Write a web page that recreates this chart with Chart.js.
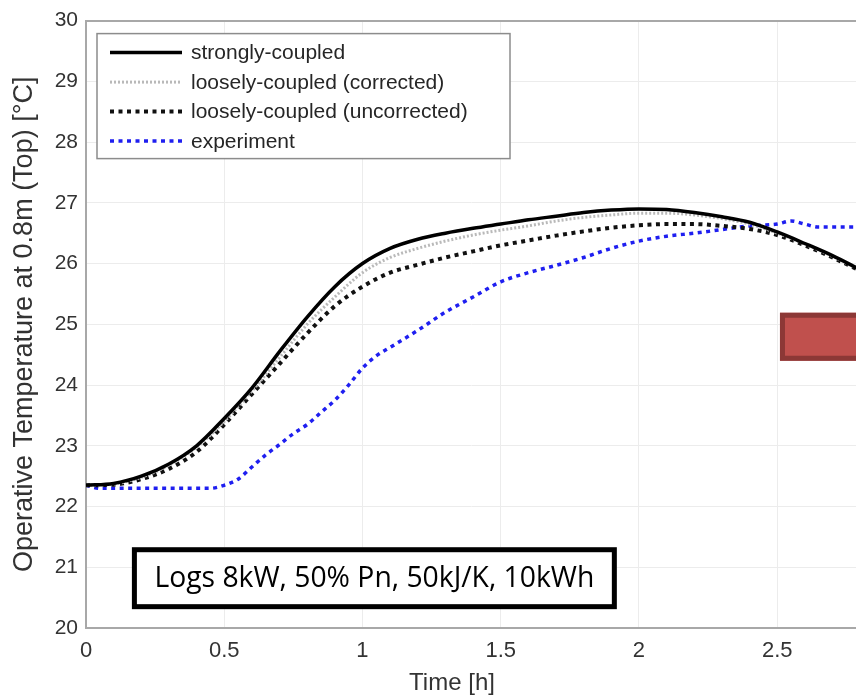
<!DOCTYPE html>
<html>
<head>
<meta charset="utf-8">
<script src="https://cdn.jsdelivr.net/npm/chart.js@4.4.0/dist/chart.umd.min.js"></script>
<style>
  body { margin: 0; background: #fff; }
  #wrap { width: 856px; height: 696px; }
</style>
</head>
<body>
<div id="wrap"><canvas id="myChart" width="856" height="696"></canvas></div>
<script>
// --------------------- data ----------------//
const simTime     = [0, 0.1, 0.2, 0.3, 0.4, 0.5, 0.6, 0.7, 0.8, 0.9, 1.0, 1.1, 1.2, 1.3, 1.4, 1.5, 1.6, 1.7, 1.8, 1.9, 2.0, 2.1, 2.2, 2.3, 2.4, 2.5, 2.6, 2.7, 2.8];
const strongly    = [22.35, 22.38, 22.5, 22.7, 23.0, 23.45, 23.95, 24.55, 25.12, 25.62, 26.0, 26.25, 26.4, 26.5, 26.58, 26.65, 26.72, 26.78, 26.84, 26.88, 26.9, 26.89, 26.84, 26.77, 26.68, 26.52, 26.33, 26.13, 25.9];
const looseCorr   = [22.35, 22.37, 22.48, 22.68, 22.98, 23.4, 23.9, 24.45, 25.0, 25.45, 25.85, 26.1, 26.25, 26.37, 26.47, 26.55, 26.62, 26.7, 26.76, 26.8, 26.83, 26.83, 26.8, 26.74, 26.65, 26.5, 26.32, 26.12, 25.89];
const looseUncorr = [22.35, 22.36, 22.45, 22.62, 22.9, 23.35, 23.85, 24.35, 24.85, 25.3, 25.62, 25.85, 25.98, 26.1, 26.2, 26.3, 26.38, 26.46, 26.53, 26.59, 26.63, 26.65, 26.65, 26.62, 26.57, 26.47, 26.3, 26.1, 25.88];

const expTime    = [0, 0.05, 0.1, 0.2, 0.3, 0.4, 0.45, 0.5, 0.55, 0.6, 0.65, 0.7, 0.75, 0.8, 0.85, 0.9, 0.95, 1.0, 1.05, 1.1, 1.2, 1.3, 1.4, 1.5, 1.6, 1.7, 1.8, 1.9, 2.0, 2.1, 2.2, 2.3, 2.4, 2.5, 2.55, 2.6, 2.65, 2.7, 2.8];
const experiment = [22.35, 22.3, 22.3, 22.3, 22.3, 22.3, 22.3, 22.35, 22.45, 22.65, 22.85, 23.02, 23.2, 23.35, 23.55, 23.75, 24.0, 24.28, 24.48, 24.62, 24.9, 25.2, 25.45, 25.7, 25.85, 25.97, 26.1, 26.25, 26.37, 26.45, 26.5, 26.56, 26.62, 26.65, 26.7, 26.65, 26.6, 26.6, 26.6];

const seriesLabels = ['strongly-coupled', 'loosely-coupled (corrected)', 'loosely-coupled (uncorrected)', 'experiment'];
const xTickLabels  = ['0', '0.5', '1', '1.5', '2', '2.5'];
const noteText     = 'Logs 8kW, 50% Pn, 50kJ/K, 10kWh';

const toXY = (xs, ys) => ys.map((y, i) => ({ x: xs[i], y: y }));

// 범례 + 글상자 + 빨간 상자 그리기
const overlay = {
  id: 'overlay',
  afterDraw(chart) {
    const c = chart.ctx;
    const a = chart.chartArea;
    const sx = chart.scales.x, sy = chart.scales.y;
    c.save();

    // legend box
    const lx = a.left + 11, ly = a.top + 13;
    c.fillStyle = '#fff';
    c.fillRect(lx, ly, 413, 125);
    c.strokeStyle = '#8c8c8c';
    c.lineWidth = 1.5;
    c.strokeRect(lx, ly, 413, 125);
    c.font = '21px "Liberation Sans", Arial, sans-serif';
    c.textBaseline = 'middle';
    chart.data.datasets.forEach((d, i) => {
      const y = ly + 19 + i * 29.5;
      c.beginPath();
      c.setLineDash(d.borderDash || []);
      c.strokeStyle = d.borderColor;
      c.lineWidth = d.borderWidth;
      c.moveTo(lx + 13, y);
      c.lineTo(lx + 85, y);
      c.stroke();
      c.setLineDash([]);
      c.fillStyle = '#262626';
      c.fillText(d.label, lx + 94, y + 1);
    });

    // note box
    const bx0 = sx.getPixelForValue(0.166), bx1 = sx.getPixelForValue(1.92);
    const by0 = sy.getPixelForValue(21.33), by1 = sy.getPixelForValue(20.31);
    c.fillStyle = '#fff';
    c.fillRect(bx0, by0, bx1 - bx0, by1 - by0);
    c.strokeStyle = '#000';
    c.lineWidth = 5;
    c.strokeRect(bx0 + 2.5, by0 + 2.5, bx1 - bx0 - 5, by1 - by0 - 5);
    let fs = 28;
    c.font = fs + 'px "Open Sans", sans-serif';
    fs = fs * 440 / c.measureText(noteText).width;
    c.font = fs + 'px "Open Sans", sans-serif';
    c.fillStyle = '#000';
    c.textAlign = 'center';
    c.fillText(noteText, (bx0 + bx1) / 2, (by0 + by1) / 2 + 1);

    // red box on the right edge
    const rx0 = sx.getPixelForValue(2.51);
    const ry0 = sy.getPixelForValue(25.19), ry1 = sy.getPixelForValue(24.40);
    c.fillStyle = '#c0504d';
    c.fillRect(rx0, ry0, chart.width - rx0 + 10, ry1 - ry0);
    c.strokeStyle = '#8c3836';
    c.lineWidth = 5;
    c.strokeRect(rx0 + 2.5, ry0 + 2.5, chart.width - rx0 + 10, ry1 - ry0 - 5);

    // x axis title
    c.font = '24px "Liberation Sans", Arial, sans-serif';
    c.fillStyle = '#333';
    c.textAlign = 'center';
    c.fillText('Time [h]', 452, 683);
    c.restore();
  }
};

const ctx = document.getElementById('myChart');

new Chart(ctx, {
  type: 'line',
  data: {
    datasets: [
      {
        label: seriesLabels[0],
        data: toXY(simTime, strongly),
        borderColor: '#000',
        borderWidth: 3.5
      },
      {
        label: seriesLabels[1],
        data: toXY(simTime, looseCorr),
        borderColor: '#b9b9b9',
        borderWidth: 3,
        borderDash: [2, 2]
      },
      {
        label: seriesLabels[2],
        data: toXY(simTime, looseUncorr),
        borderColor: '#111',
        borderWidth: 4,
        borderDash: [4, 4.5]
      },
      {
        label: seriesLabels[3],
        data: toXY(expTime, experiment),
        borderColor: '#1f1ff0',
        borderWidth: 3.5,
        borderDash: [4, 4.5]
      }
    ]
  },
  options: {
    responsive: false,
    animation: false,
    layout: { padding: { top: 17, right: 0, left: 0, bottom: 0 } },
    elements: {
      point: { radius: 0 },
      line: { cubicInterpolationMode: 'monotone', fill: false }
    },
    plugins: {
      legend: { display: false },
      tooltip: { enabled: false }
    },
    scales: {
      x: {
        type: 'linear',
        min: 0,
        max: 2.785,
        afterFit: (s) => { s.height = 68; },
        border: { color: '#a8a8a8', width: 2 },
        grid: { color: '#ececec', drawTicks: false },
        ticks: {
          stepSize: 0.5,
          includeBounds: false,
          padding: 10,
          color: '#333',
          font: { family: '"Liberation Sans", Arial, sans-serif', size: 22 },
          callback: (v) => xTickLabels[Math.round(v * 2)]
        }
      },
      y: {
        min: 20,
        max: 30,
        afterFit: (s) => { s.width = 86; },
        border: { color: '#a8a8a8', width: 2 },
        grid: {
          color: (c) => c.tick && c.tick.value === 30 ? '#a8a8a8' : '#ececec',
          lineWidth: (c) => c.tick && c.tick.value === 30 ? 2 : 1,
          drawTicks: false
        },
        ticks: {
          stepSize: 1,
          padding: 8,
          color: '#333',
          font: { family: '"Liberation Sans", Arial, sans-serif', size: 21 }
        },
        title: {
          display: true,
          text: 'Operative Temperature at 0.8m (Top) [°C]',
          color: '#333',
          padding: { top: 8, bottom: 0 },
          font: { family: '"Liberation Sans", Arial, sans-serif', size: 27 }
        }
      }
    }
  },
  plugins: [overlay]
});
</script>
</body>
</html>
